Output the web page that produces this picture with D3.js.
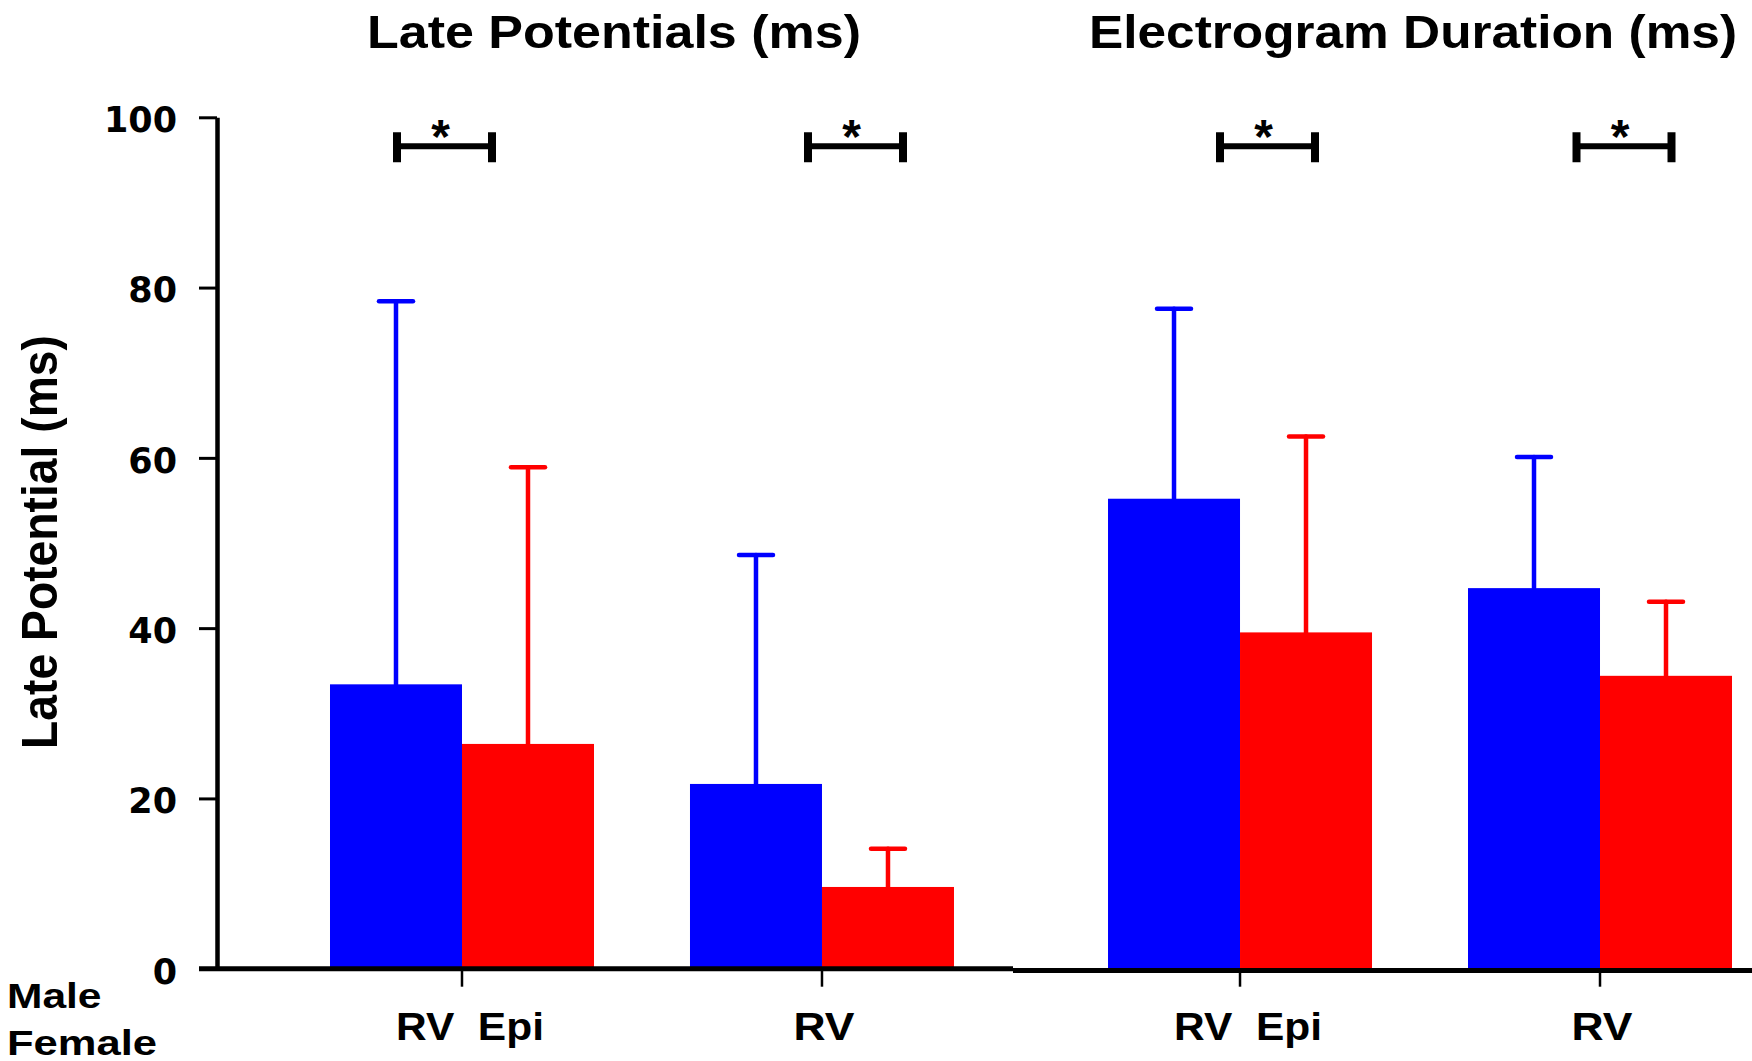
<!DOCTYPE html>
<html>
<head>
<meta charset="utf-8">
<script src="https://cdn.jsdelivr.net/npm/d3@7"></script>
<style>
  body { margin: 0; background: #fff; }
  text { font-family: "Liberation Sans", Arial, sans-serif; font-weight: bold; fill: #000; }
</style>
</head>
<body>
<script>
// data (mean and SD in ms)
var panels = ["Late Potentials (ms)", "Electrogram Duration (ms)"];
var sites = ["RV Epi", "RV"];
var sexes = ["Male", "Female"];

var lateMale = [33.4, 21.7];
var lateMaleSD = [45.0, 26.9];
var lateFemale = [26.4, 9.6];
var lateFemaleSD = [32.5, 4.5];

var egmMale = [55.2, 44.7];
var egmMaleSD = [22.3, 15.4];
var egmFemale = [39.5, 34.4];
var egmFemaleSD = [23.0, 8.7];

var yTicks = [0, 20, 40, 60, 80, 100];
var sigLevel = 96.6; // height of the * brackets

var WIDTH = 1752;
var HEIGHT = 1061;
var COLORS = { Male: "#0000ff", Female: "#ff0000" };

var rows = [];
sites.forEach(function(s, i) {
  rows.push({ panel: panels[0], site: s, sex: "Male", mean: lateMale[i], sd: lateMaleSD[i] });
  rows.push({ panel: panels[0], site: s, sex: "Female", mean: lateFemale[i], sd: lateFemaleSD[i] });
  rows.push({ panel: panels[1], site: s, sex: "Male", mean: egmMale[i], sd: egmMaleSD[i] });
  rows.push({ panel: panels[1], site: s, sex: "Female", mean: egmFemale[i], sd: egmFemaleSD[i] });
});

var svg = d3.select("body")
            .append("svg")
            .attr("width", WIDTH)
            .attr("height", HEIGHT);

var y = d3.scaleLinear().domain([0, 100]).range([968.7, 117.3]);

var x0 = d3.scaleBand().domain(panels).range([282, 1780]).paddingInner(0.0746);
var x1 = d3.scaleBand().domain(sites).range([0, x0.bandwidth()]);
var x2 = d3.scaleBand().domain(sexes).range([-132, 132]);

var center = function(d) { return x0(d.panel) + x1(d.site) + x1.bandwidth() / 2; };

// bars
svg.selectAll("rect.bar")
   .data(rows)
   .enter()
   .append("rect")
   .classed("bar", true)
   .attr("x", d => center(d) + x2(d.sex))
   .attr("width", x2.bandwidth())
   .attr("y", d => y(d.mean))
   .attr("height", d => y(0) - y(d.mean))
   .attr("fill", d => COLORS[d.sex]);

// error bars (upper only)
var err = svg.selectAll("g.err")
             .data(rows)
             .enter()
             .append("g")
             .classed("err", true)
             .attr("stroke", d => COLORS[d.sex])
             .attr("stroke-width", 4.5)
             .attr("stroke-linecap", "round");
err.append("line")
   .attr("x1", d => center(d) + x2(d.sex) + x2.bandwidth() / 2)
   .attr("x2", d => center(d) + x2(d.sex) + x2.bandwidth() / 2)
   .attr("y1", d => y(d.mean))
   .attr("y2", d => y(d.mean + d.sd));
err.append("line")
   .attr("x1", d => center(d) + x2(d.sex) + x2.bandwidth() / 2 - 17)
   .attr("x2", d => center(d) + x2(d.sex) + x2.bandwidth() / 2 + 17)
   .attr("y1", d => y(d.mean + d.sd))
   .attr("y2", d => y(d.mean + d.sd));

// y axis
var yAxis = svg.append("g")
               .attr("transform", "translate(217,0)")
               .call(d3.axisLeft(y).tickValues(yTicks).tickSize(18).tickSizeOuter(0).tickPadding(22));
yAxis.select(".domain").attr("stroke", "#000").attr("stroke-width", 4.5);
yAxis.selectAll(".tick line").attr("stroke", "#000").attr("stroke-width", 3);
yAxis.selectAll(".tick text")
     .style("font-family", "'DejaVu Sans', sans-serif")
     .style("font-size", "35px")
     .attr("dy", "0.38em")
     .attr("y", 1);

// x axis: two pieces, the right one sits a touch lower
svg.append("line")
   .attr("x1", 199).attr("x2", 1013)
   .attr("y1", y(0)).attr("y2", y(0))
   .attr("stroke", "#000").attr("stroke-width", 5);
svg.append("line")
   .attr("x1", 1013).attr("x2", WIDTH)
   .attr("y1", y(0) + 1.8).attr("y2", y(0) + 1.8)
   .attr("stroke", "#000").attr("stroke-width", 5);

var groups = [];
panels.forEach(p => sites.forEach(s => groups.push({ panel: p, site: s })));

svg.selectAll("line.xtick")
   .data(groups)
   .enter()
   .append("line")
   .classed("xtick", true)
   .attr("x1", center).attr("x2", center)
   .attr("y1", y(0)).attr("y2", y(0) + 18)
   .attr("stroke", "#000").attr("stroke-width", 2.5);

svg.selectAll("text.xlab")
   .data(groups)
   .enter()
   .append("text")
   .classed("xlab", true)
   .attr("x", d => center(d) + (d.site.indexOf(" ") > 0 ? 8 : 2))
   .attr("y", 1040)
   .attr("text-anchor", "middle")
   .style("font-size", "39.5px")
   .style("white-space", "pre")
   .attr("textLength", d => d.site.indexOf(" ") > 0 ? 148 : 61)
   .attr("lengthAdjust", "spacingAndGlyphs")
   .text(d => d.site.replace(" ", "  "));

// Male / Female labels at bottom left
svg.selectAll("text.sex")
   .data(sexes)
   .enter()
   .append("text")
   .classed("sex", true)
   .attr("x", 7)
   .attr("y", (d, i) => i == 0 ? 1008 : 1055)
   .style("font-size", "35px")
   .attr("textLength", (d, i) => i == 0 ? 94.5 : 150)
   .attr("lengthAdjust", "spacingAndGlyphs")
   .text(d => d);

// significance brackets
var bracketOffsets = [[-65, 30], [-14, 81], [-20, 75], [-23.5, 71.5]];
var br = svg.selectAll("g.sig")
            .data(groups)
            .enter()
            .append("g")
            .classed("sig", true);
br.append("line")
  .attr("x1", (d, i) => center(d) + bracketOffsets[i][0])
  .attr("x2", (d, i) => center(d) + bracketOffsets[i][1])
  .attr("y1", y(sigLevel)).attr("y2", y(sigLevel))
  .attr("stroke", "#000").attr("stroke-width", 6);
br.append("line")
  .attr("x1", (d, i) => center(d) + bracketOffsets[i][0])
  .attr("x2", (d, i) => center(d) + bracketOffsets[i][0])
  .attr("y1", y(sigLevel) - 14).attr("y2", y(sigLevel) + 16)
  .attr("stroke", "#000").attr("stroke-width", 8);
br.append("line")
  .attr("x1", (d, i) => center(d) + bracketOffsets[i][1])
  .attr("x2", (d, i) => center(d) + bracketOffsets[i][1])
  .attr("y1", y(sigLevel) - 14).attr("y2", y(sigLevel) + 16)
  .attr("stroke", "#000").attr("stroke-width", 8);
br.append("text")
  .attr("x", (d, i) => center(d) + (bracketOffsets[i][0] + bracketOffsets[i][1]) / 2 - 4)
  .attr("y", y(sigLevel) + 7)
  .attr("text-anchor", "middle")
  .style("font-size", "48px")
  .text("*");

// panel titles
var titleX = [614, 1413];
var titleW = [494, 648];
svg.selectAll("text.title")
   .data(panels)
   .enter()
   .append("text")
   .classed("title", true)
   .attr("x", (d, i) => titleX[i])
   .attr("y", 48)
   .attr("text-anchor", "middle")
   .style("font-size", "47px")
   .attr("textLength", (d, i) => titleW[i])
   .attr("lengthAdjust", "spacingAndGlyphs")
   .text(d => d);

// y axis title
svg.append("text")
   .attr("transform", "translate(57,542) rotate(-90) scale(1,1.1)")
   .attr("text-anchor", "middle")
   .style("font-size", "46px")
   .attr("textLength", 414)
   .attr("lengthAdjust", "spacingAndGlyphs")
   .text("Late Potential (ms)");
</script>
</body>
</html>
